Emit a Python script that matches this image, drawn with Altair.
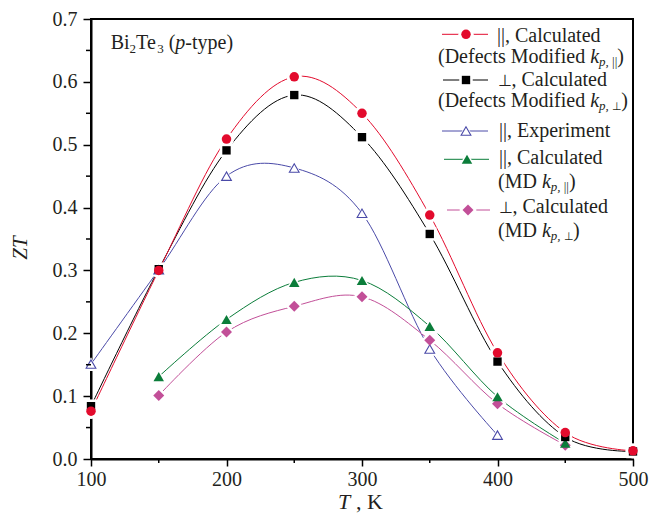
import altair as alt
import pandas as pd

# ---------------- data ----------------
T_all = [100, 150, 200, 250, 300, 350, 400, 450, 500]
zt_par_def = [0.076, 0.300, 0.509, 0.608, 0.550, 0.388, 0.169, 0.042, 0.013]
zt_perp_def = [0.084, 0.302, 0.491, 0.579, 0.512, 0.358, 0.155, 0.035, 0.012]
T_exp = [100, 150, 200, 250, 300, 350, 400]
zt_par_exp = [0.151, 0.301, 0.450, 0.463, 0.391, 0.175, 0.038]
T_md = [150, 200, 250, 300, 350, 400, 450]
zt_par_md = [0.131, 0.222, 0.281, 0.284, 0.211, 0.099, 0.025]
zt_perp_md = [0.101, 0.202, 0.243, 0.258, 0.189, 0.088, 0.022]

x_ticks = [100, 200, 300, 400, 500]
x_minor = [150, 250, 350, 450]
y_ticks = [0.0, 0.1, 0.2, 0.3, 0.4, 0.5, 0.6, 0.7]
y_minor = [0.05, 0.15, 0.25, 0.35, 0.45, 0.55, 0.65]

# ---------------- layout ----------------
PX0, PY0 = 91, 19
W, H = 542, 440
XMIN, XMAX, YMIN, YMAX = 100, 500, 0.0, 0.7
FONT = "Liberation Serif"
TXT = "#231f20"


def dx(xa):
    return XMIN + (xa - PX0) / W * (XMAX - XMIN)


def dy(ya):
    return YMAX - (ya - PY0) / H * (YMAX - YMIN)


xs = alt.Scale(domain=[XMIN, XMAX], nice=False, zero=False)
ys = alt.Scale(domain=[YMIN, YMAX], nice=False, zero=False)
xaxis = alt.Axis(values=x_ticks, format="d", tickSize=7, tickWidth=1.5, domainWidth=2,
                 domainColor="black", tickColor="black", labelFont=FONT, labelFontSize=20,
                 labelColor=TXT, labelPadding=3, labelFlush=False, labelOverlap=False,
                 title=None, grid=False)
yaxis = alt.Axis(values=y_ticks, format=".1f", tickSize=8, tickWidth=1.5, domainWidth=2,
                 domainColor="black", tickColor="black", labelFont=FONT, labelFontSize=20,
                 labelColor=TXT, labelPadding=6, labelFlush=False, labelOverlap=False,
                 title=None, grid=False)


def X(f):
    return alt.X(f, type="quantitative", scale=xs, axis=xaxis)


def Y(f):
    return alt.Y(f, type="quantitative", scale=ys, axis=yaxis)


series = [
    # name, T, values, color, shape, filled, size
    ("par_exp", T_exp, zt_par_exp, "#4a4aa8", "triangle-up", False, 95),
    ("perp_md", T_md, zt_perp_md, "#c24f98", "diamond", True, 120),
    ("par_md", T_md, zt_par_md, "#0b7d3a", "triangle-up", True, 110),
    ("perp_def", T_all, zt_perp_def, "black", "square", True, 70),
    ("par_def", T_all, zt_par_def, "#e30b2d", "circle", True, 90),
]

lines, halos, marks = [], [], []
for name, tt, vv, col, shp, filled, sz in series:
    d = pd.DataFrame({"T": tt, "ZT": vv})
    base = alt.Chart(d)
    lines.append(base.mark_line(interpolate="cardinal", color=col, strokeWidth=1)
                 .encode(x=X("T"), y=Y("ZT")))
    halos.append(base.mark_point(shape=shp, filled=True, color="white", opacity=1,
                                 size=sz * 2.6).encode(x=X("T"), y=Y("ZT")))
    if filled:
        m = base.mark_point(shape=shp, filled=True, color=col, opacity=1, size=sz)
    else:
        m = base.mark_point(shape=shp, filled=False, fill="white", fillOpacity=1,
                            stroke=col, strokeWidth=1.1, opacity=1, size=sz)
    marks.append(m.encode(x=X("T"), y=Y("ZT")))

# minor ticks
ym = alt.Chart(pd.DataFrame({"v": y_minor})).mark_rule(color="black", strokeWidth=1.5).encode(
    y=Y("v"), x=alt.value(0), x2=alt.value(-5))
xm = alt.Chart(pd.DataFrame({"v": x_minor})).mark_rule(color="black", strokeWidth=1.5).encode(
    x=X("v"), y=alt.value(H), y2=alt.value(H + 4))

# ---------------- text annotations ----------------
W_REG = {"B": 667, "i": 278, "T": 611, "e": 444, "(": 333, ")": 333, "-": 333, "t": 278,
         "y": 500, "p": 500, " ": 250, ",": 250, "|": 200, "C": 667, "a": 444, "l": 278,
         "c": 444, "u": 500, "d": 500, "D": 722, "f": 333, "s": 389, "M": 889, "o": 500,
         "E": 611, "x": 500, "r": 333, "m": 778, "n": 500, "K": 722, "2": 500, "3": 500,
         "\u22a5": 840}
W_ITA = {"k": 444, "p": 500, "T": 556, "Z": 556}


def tw(s, size, italic):
    tab = W_ITA if italic else W_REG
    return sum(tab.get(c, 500) for c in s) / 1000 * size


rows = []


def chain(x0, base, pieces):
    x = x0
    for text, size, italic, shift in pieces:
        lead = len(text) - len(text.lstrip(" "))
        x += lead * 0.25 * size
        t = text.strip(" ")
        rows.append({"text": t, "x": dx(x), "y": dy(base + shift), "size": size,
                     "style": "italic" if italic else "normal"})
        x += tw(text.lstrip(" "), size, italic)


SUB = 13
chain(110.7, 48.7, [("Bi", 20, False, 0), ("2", SUB, False, 4), ("Te", 20, False, 0),
                    ("3", SUB, False, 4), (" (", 20, False, 0), ("p", 20, True, 0),
                    ("-type)", 20, False, 0)])

LF = 20
PERP = 16
# legend text
chain(497, 41.7, [("||, Calculated", LF, False, 0)])
chain(438, 63.3, [("(Defects Modified ", LF, False, 0), ("k", LF, True, 0),
                  ("p,", SUB, True, 3), ("||", SUB, False, 3), (")", LF, False, 0)])
chain(498, 85.7, [("\u22a5", PERP, False, 0), (", Calculated", LF, False, 0)])
chain(438, 107.3, [("(Defects Modified ", LF, False, 0), ("k", LF, True, 0),
                   ("p,", SUB, True, 3), ("\u22a5", 11, False, 3), (")", LF, False, 0)])
chain(499, 136.7, [("||, Experiment", LF, False, 0)])
chain(499, 164.0, [("||, Calculated", LF, False, 0)])
chain(498, 188.3, [("(MD ", LF, False, 0), ("k", LF, True, 0),
                   ("p,", SUB, True, 3), ("||", SUB, False, 3), (")", LF, False, 0)])
chain(499, 213.3, [("\u22a5", PERP, False, 0), (", Calculated", LF, False, 0)])
chain(498, 237.3, [("(MD ", LF, False, 0), ("k", LF, True, 0),
                   ("p,", SUB, True, 3), ("\u22a5", 11, False, 3), (")", LF, False, 0)])
# x axis title
chain(338, 509, [("T", 22, True, 0)])
chain(356, 509, [(", K", 22, False, 0)])

ann = pd.DataFrame(rows)
txt_layers = []
for st in ["normal", "italic"]:
    txt_layers.append(
        alt.Chart(ann[ann["style"] == st]).mark_text(
            align="left", baseline="alphabetic", font=FONT, fontStyle=st, color=TXT)
        .encode(x=X("x"), y=Y("y"), text="text:N",
                size=alt.Size("size:Q", scale=None, legend=None)))

ztitle = alt.Chart(pd.DataFrame({"text": ["ZT"], "x": [dx(21)], "y": [dy(248)]})).mark_text(
    align="center", baseline="middle", font=FONT, fontStyle="italic", fontSize=21,
    angle=270, color=TXT).encode(x=X("x"), y=Y("y"), text="text:N")

# ---------------- legend symbols ----------------
legend_entries = [
    # name, marker y (abs), line x1, x2, marker x
    ("par_def", 34.3, 442, 488, 466),
    ("perp_def", 80.0, 443, 488, 466),
    ("par_exp", 131.0, 442, 488, 466),
    ("par_md", 159.3, 444, 489, 467),
    ("perp_md", 210.0, 447, 490, 468),
]
style = {s[0]: s for s in series}
leg_layers = []
one = pd.DataFrame({"a": [0]})
for name, my, x1, x2, mx in legend_entries:
    _, _, _, col, shp, filled, sz = style[name]
    yv = my - PY0
    leg_layers.append(alt.Chart(one).mark_rule(color=col, strokeWidth=1).encode(
        x=alt.value(x1 - PX0), x2=alt.value(x2 - PX0), y=alt.value(yv)))
    leg_layers.append(alt.Chart(one).mark_point(shape=shp, filled=True, color="white",
                                                opacity=1, size=sz * 2.6).encode(
        x=alt.value(mx - PX0), y=alt.value(yv)))
    if filled:
        m = alt.Chart(one).mark_point(shape=shp, filled=True, color=col, opacity=1, size=sz)
    else:
        m = alt.Chart(one).mark_point(shape=shp, filled=False, fill="white", fillOpacity=1,
                                      stroke=col, strokeWidth=1.1, opacity=1, size=sz)
    leg_layers.append(m.encode(x=alt.value(mx - PX0), y=alt.value(yv)))

chart = alt.layer(*lines, *halos, *marks, ym, xm, *txt_layers, ztitle, *leg_layers).properties(
    width=W, height=H,
    autosize=alt.AutoSizeParams(type="none"),
    padding={"left": PX0 - 8, "top": PY0 - 8, "right": 669 - 16 - (PX0 - 8) - W,
             "bottom": 523 - 16 - (PY0 - 8) - H},
    background="white",
).configure_view(stroke="black", strokeWidth=2)

chart.save("out.html", embed_options={"renderer": "svg", "actions": False})
